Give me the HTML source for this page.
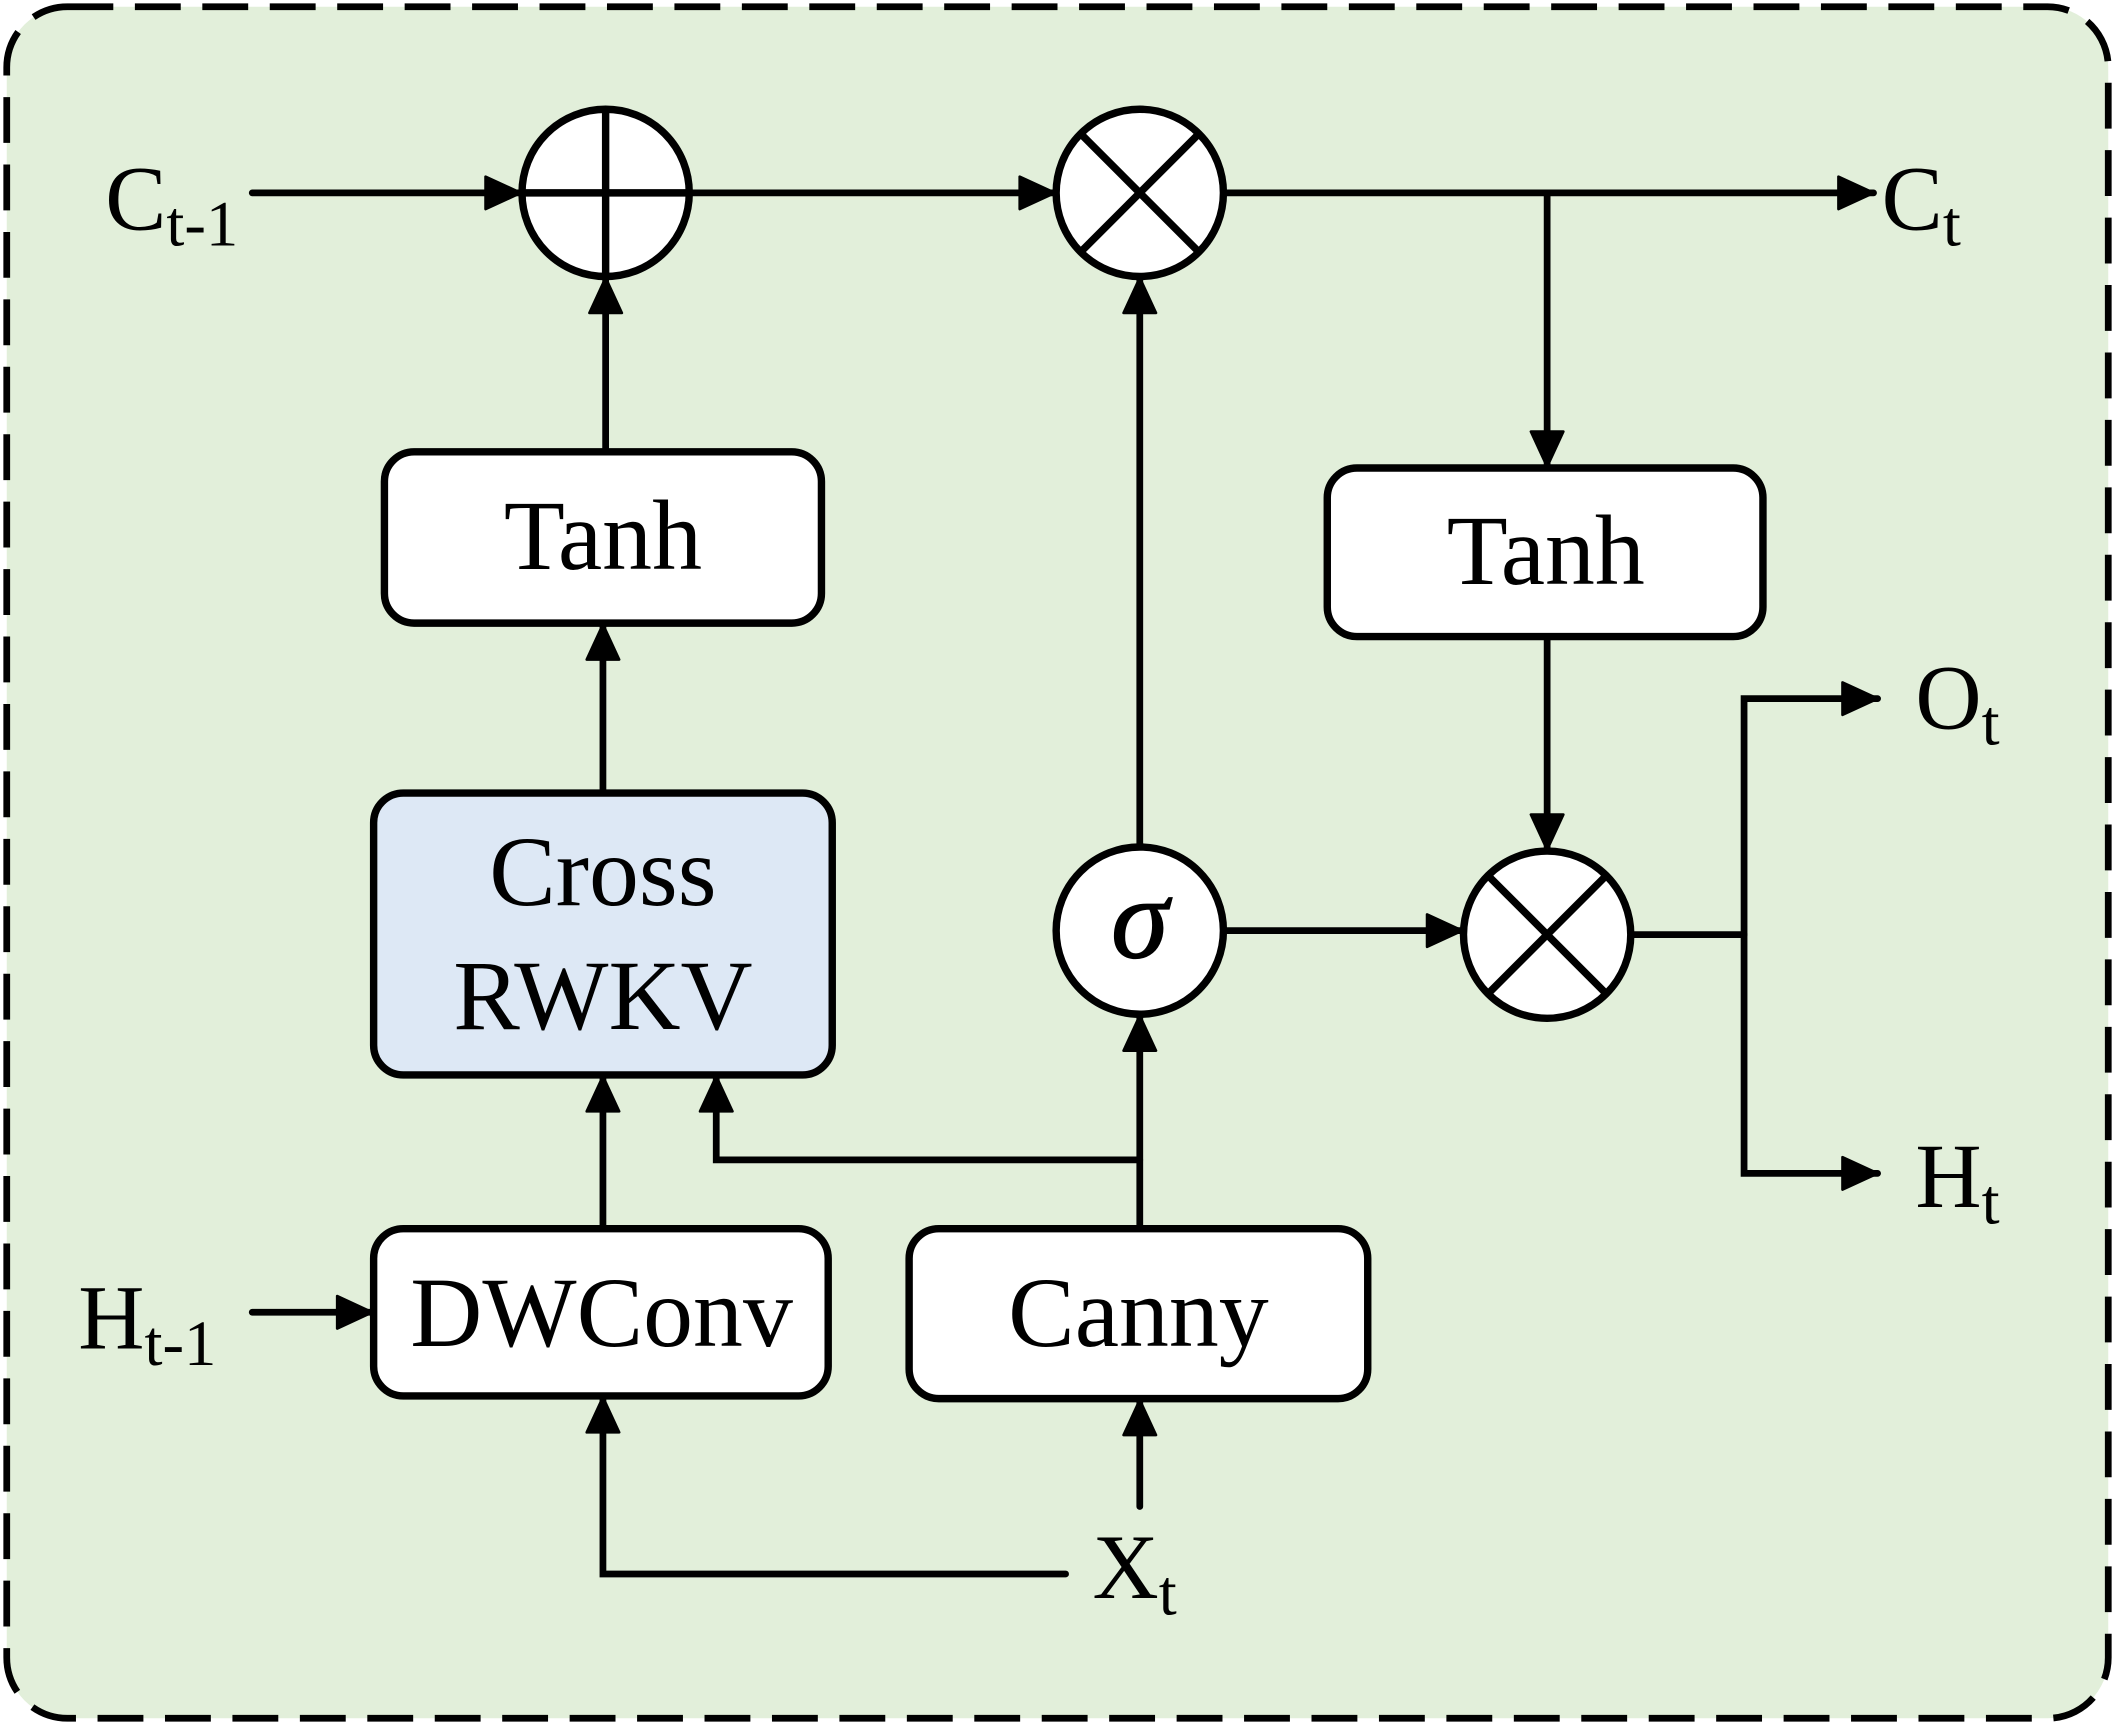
<!DOCTYPE html>
<html><head><meta charset="utf-8"><style>
html,body{margin:0;padding:0;background:#fff;}
svg{display:block;}
text{font-family:"Liberation Serif",serif;fill:#000;}
</style></head><body>
<svg width="2115" height="1725" viewBox="0 0 1568 1279" preserveAspectRatio="none" xmlns="http://www.w3.org/2000/svg">
<defs>
<marker id="a" markerUnits="userSpaceOnUse" markerWidth="30" markerHeight="28" refX="28" refY="14" orient="auto">
<path d="M2,2 L28,14 L2,26 Z" fill="#000" stroke="#000" stroke-width="2" stroke-linejoin="round"/>
</marker>
</defs>
<rect x="5" y="5" width="1558" height="1269" rx="45" fill="#e2efda" stroke="#000" stroke-width="5" stroke-dasharray="34,16"/>
<g stroke="#000" stroke-width="5" fill="none" stroke-linecap="round">
<line x1="187" y1="143" x2="386" y2="143" marker-end="url(#a)"/>
<line x1="511" y1="143" x2="782" y2="143" marker-end="url(#a)"/>
<line x1="907" y1="143" x2="1389" y2="143" marker-end="url(#a)"/>
<line x1="1147" y1="143" x2="1147" y2="346" marker-end="url(#a)"/>
<line x1="449" y1="335" x2="449" y2="206" marker-end="url(#a)"/>
<line x1="447" y1="588" x2="447" y2="463" marker-end="url(#a)"/>
<line x1="447" y1="911" x2="447" y2="798" marker-end="url(#a)"/>
<polyline points="845,860 531,860 531,798" marker-end="url(#a)"/>
<line x1="845" y1="911" x2="845" y2="753" marker-end="url(#a)"/>
<line x1="845" y1="628" x2="845" y2="206" marker-end="url(#a)"/>
<line x1="907" y1="690" x2="1084" y2="690" marker-end="url(#a)"/>
<line x1="1147" y1="472" x2="1147" y2="630" marker-end="url(#a)"/>
<polyline points="1209,693 1293,693"/>
<polyline points="1293,693 1293,518 1392,518" marker-end="url(#a)"/>
<polyline points="1293,693 1293,870 1392,870" marker-end="url(#a)"/>
<line x1="187" y1="973" x2="276" y2="973" marker-end="url(#a)"/>
<polyline points="790,1167 447,1167 447,1036" marker-end="url(#a)"/>
<line x1="845" y1="1117" x2="845" y2="1038" marker-end="url(#a)"/>
</g>
<g stroke="#000" stroke-width="5.5">
<rect x="285" y="335" width="324" height="127" rx="22" fill="#fff"/>
<rect x="984" y="347" width="323" height="125" rx="22" fill="#fff"/>
<rect x="277" y="588" width="340" height="209" rx="22" fill="#dde8f5"/>
<rect x="277" y="911" width="337" height="124" rx="22" fill="#fff"/>
<rect x="674" y="911" width="340" height="126" rx="22" fill="#fff"/>
<circle cx="449" cy="143" r="62" fill="#fff"/>
<line x1="387" y1="143" x2="511" y2="143"/><line x1="449" y1="81" x2="449" y2="205"/>
<circle cx="845" cy="143" r="62" fill="#fff"/>
<line x1="801" y1="99" x2="889" y2="187"/><line x1="889" y1="99" x2="801" y2="187"/>
<circle cx="1147" cy="693" r="62" fill="#fff"/>
<line x1="1103" y1="649" x2="1191" y2="737"/><line x1="1191" y1="649" x2="1103" y2="737"/>
<circle cx="845" cy="690" r="62" fill="#fff"/>
</g>
<g font-size="74" text-anchor="middle">
<text x="447" y="422">Tanh</text>
<text x="1146" y="433">Tanh</text>
<text x="447" y="671">Cross</text>
<text x="447" y="763">RWKV</text>
<text x="446" y="998">DWConv</text>
<text x="844" y="998">Canny</text>
<text x="845" y="710" font-style="italic" font-size="86" stroke="#000" stroke-width="1">σ</text>
</g>
<g font-size="68">
<text x="78" y="170">C<tspan font-size="48" dy="12">t-1</tspan></text>
<text x="58" y="1000">H<tspan font-size="48" dy="12">t-1</tspan></text>
<text x="1395" y="170">C<tspan font-size="48" dy="12">t</tspan></text>
<text x="1420" y="540">O<tspan font-size="48" dy="12">t</tspan></text>
<text x="1420" y="895">H<tspan font-size="48" dy="12">t</tspan></text>
<text x="810" y="1185">X<tspan font-size="48" dy="12">t</tspan></text>
</g>
</svg>
</body></html>
